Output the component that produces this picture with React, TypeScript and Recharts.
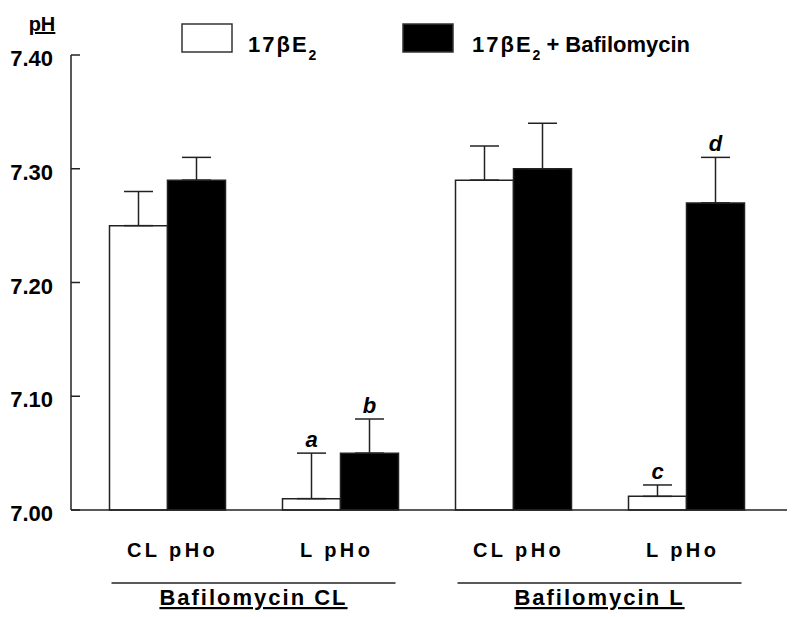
import React from 'react';
import { BarChart, Bar, XAxis, YAxis, ErrorBar, LabelList, Legend } from 'recharts';

const categories = ['CL pHo', 'L pHo', 'CL pHo', 'L pHo'];
const groups = ['Bafilomycin CL', 'Bafilomycin CL', 'Bafilomycin L', 'Bafilomycin L'];
const e2Values = [7.25, 7.01, 7.29, 7.012];
const e2Errors = [0.03, 0.04, 0.03, 0.01];
const bafValues = [7.29, 7.05, 7.30, 7.27];
const bafErrors = [0.02, 0.03, 0.04, 0.04];
const e2Marks = ['', 'a', '', 'c'];
const bafMarks = ['', 'b', '', 'd'];
const yDomain = [7.0, 7.4];
const yTicks = [7.0, 7.1, 7.2, 7.3, 7.4];

const FONT = '"Liberation Sans", Arial, Helvetica, sans-serif';
const INK = '#222';

const data = categories.map((cat, i) => ({
  cat,
  group: groups[i],
  e2: e2Values[i],
  e2Err: [0, e2Errors[i]],
  baf: bafValues[i],
  bafErr: [0, bafErrors[i]],
}));

const YTick = ({ x, y, payload }: any) => (
  <g>
    <line x1={x} x2={x + 9} y1={y} y2={y} stroke={INK} strokeWidth={1.5} />
    <text x={x - 18} y={y + 11} textAnchor="end" fontSize={22} fontWeight="bold" fill="#000" fontFamily={FONT}>
      {Number(payload.value).toFixed(2)}
    </text>
  </g>
);

const CatTick = ({ x, y, payload }: any) => (
  <text x={x - 40} y={y + 47} textAnchor="start" fontSize={20} fontWeight="bold" letterSpacing={3.4} fill="#000" fontFamily={FONT}>
    {payload.value}
  </text>
);

const GroupTick = ({ x, y, payload }: any) => (
  <g>
    <line x1={x - 142} x2={x + 142} y1={y + 23} y2={y + 23} stroke={INK} strokeWidth={1.5} />
    <text x={x} y={y + 45} textAnchor="middle" textDecoration="underline" fontSize={22} fontWeight="bold"
      letterSpacing={2} fill="#000" fontFamily={FONT}>
      {payload.value}
    </text>
  </g>
);

const PhLabel = ({ viewBox }: any) => (
  <text x={viewBox.x + 42} y={viewBox.y - 24} textAnchor="middle" textDecoration="underline" fontSize={20}
    fontWeight="bold" fill="#000" fontFamily={FONT}>
    pH
  </text>
);

// letter above the error cap; cap height derived from the bar's own px/unit
const sigLabel = (marks: string[], values: number[], errors: number[]) => (props: any) => {
  const { x, y, width, height, index } = props;
  const mark = marks[index];
  if (!mark) return null;
  const pxPerUnit = Number(height) / (values[index] - yDomain[0]);
  const capY = Number(y) - errors[index] * pxPerUnit;
  return (
    <text x={Number(x) + Number(width) / 2} y={capY - 6} textAnchor="middle" fontSize={22} fontStyle="italic"
      fontWeight="bold" fill="#000" fontFamily={FONT}>
      {mark}
    </text>
  );
};

const boxX = [182, 403];
const textX = [248, 472];

const LegendContent = ({ payload }: any) => (
  <svg width={796} height={70} style={{ display: 'block' }}>
    {(payload || []).map((p: any, i: number) => (
      <g key={i}>
        <rect x={boxX[i]} y={24} width={50} height={28} fill={p.color} stroke="#333" strokeWidth={1.5} />
        <text x={textX[i]} y={52} fontSize={22} fontWeight="bold" fill="#000" fontFamily={FONT}>
          <tspan letterSpacing={2}>17βE</tspan>
          <tspan fontSize={14} dy={8}>2</tspan>
          {i === 1 && <tspan dy={-8} dx={6}>+ Bafilomycin</tspan>}
        </text>
      </g>
    ))}
  </svg>
);

export default function App() {
  return (
    <div style={{ position: 'absolute', left: 0, top: 0, width: 796, height: 617, background: '#fff' }}>
      <BarChart width={796} height={617} data={data} margin={{ top: 55, right: 9, bottom: 0, left: 0 }}
        barGap={0} barSize={58}>
        <XAxis dataKey="cat" height={50} tick={<CatTick />} tickLine={false} tickSize={0} tickMargin={0}
          axisLine={{ stroke: INK, strokeWidth: 1.5 }} padding={{ left: 9.5, right: 14.5 }} interval={0} />
        <XAxis xAxisId="grp" dataKey="group" allowDuplicatedCategory={false} height={57} tick={<GroupTick />}
          tickLine={false} tickSize={0} tickMargin={0} axisLine={false} padding={{ left: 9.5, right: 14.5 }} interval={0} />
        <YAxis width={71} domain={yDomain} ticks={yTicks} tick={<YTick />} tickLine={false} tickSize={0}
          tickMargin={0} axisLine={{ stroke: INK, strokeWidth: 1.5 }} label={{ content: PhLabel }} />
        <Legend verticalAlign="middle" align="center" layout="horizontal" content={LegendContent}
          wrapperStyle={{ top: 0, left: 0, width: 796, height: 70 }} />
        <Bar dataKey="e2" name="17βE2" fill="#ffffff" stroke={INK} strokeWidth={1.5} legendType="rect" isAnimationActive={false}>
          <ErrorBar dataKey="e2Err" width={14.5} stroke={INK} strokeWidth={1.5} />
          <LabelList dataKey="e2" content={sigLabel(e2Marks, e2Values, e2Errors)} />
        </Bar>
        <Bar dataKey="baf" name="17βE2 + Bafilomycin" fill="#000000" stroke={INK} strokeWidth={1.5} legendType="rect" isAnimationActive={false}>
          <ErrorBar dataKey="bafErr" width={14.5} stroke={INK} strokeWidth={1.5} />
          <LabelList dataKey="baf" content={sigLabel(bafMarks, bafValues, bafErrors)} />
        </Bar>
      </BarChart>
    </div>
  );
}
